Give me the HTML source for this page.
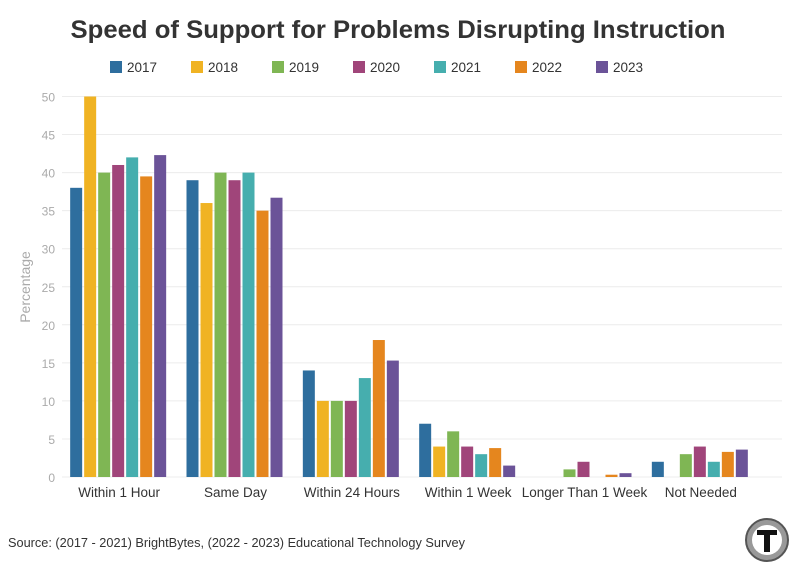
<!DOCTYPE html>
<html><head><meta charset="utf-8"><style>
body{margin:0;background:#fff;font-family:"Liberation Sans",sans-serif;}
svg text{font-family:"Liberation Sans",sans-serif;}
</style></head><body>
<svg width="796" height="575">
<text x="398" y="38" text-anchor="middle" font-size="25" font-weight="bold" fill="#333" textLength="655" lengthAdjust="spacingAndGlyphs">Speed of Support for Problems Disrupting Instruction</text>
<g id="legend"></g>
<g id="grid"></g>
<g id="bars"></g>
<g id="xl"></g>
<text transform="translate(30,287) rotate(-90)" text-anchor="middle" font-size="14" fill="#aaa">Percentage</text>
<text x="8" y="547" font-size="13" fill="#333" textLength="457" lengthAdjust="spacingAndGlyphs">Source: (2017 - 2021) BrightBytes, (2022 - 2023) Educational Technology Survey</text>
<g>
<circle cx="767" cy="540" r="21" fill="#999" stroke="#555" stroke-width="2"/>
<circle cx="767" cy="540" r="15" fill="#fff"/>
<rect x="757" y="530" width="20" height="5" fill="#111"/><rect x="764" y="530" width="6" height="22" fill="#111"/>
</g>
</svg>
<script>
const categories=["Within 1 Hour","Same Day","Within 24 Hours","Within 1 Week","Longer Than 1 Week","Not Needed"];
const years=["2017","2018","2019","2020","2021","2022","2023"];
const colors=["#2e6e9e","#f0b323","#7fb654","#a0457a","#46aeae","#e5861e","#6b5398"];
const v2017=[38,39,14,7,0,2];
const v2018=[50,36,10,4,0,0];
const v2019=[40,40,10,6,1,3];
const v2020=[41,39,10,4,2,4];
const v2021=[42,40,13,3,0,2];
const v2022=[39.5,35,18,3.8,0.3,3.3];
const v2023=[42.3,36.7,15.3,1.5,0.5,3.6];
const series=[v2017,v2018,v2019,v2020,v2021,v2022,v2023];
const yTicks=[0,5,10,15,20,25,30,35,40,45,50];
const NS="http://www.w3.org/2000/svg";
const x0=62,x1=760,yb=477,yt=96.5,ymax=50;
const y=v=>yb-(v/ymax)*(yb-yt);
const gw=(x1-x0)/categories.length;
function mk(t,a,p){const e=document.createElementNS(NS,t);for(const k in a)e.setAttribute(k,a[k]);p.appendChild(e);return e;}
const grid=document.getElementById('grid');
yTicks.forEach(t=>{
 const l=mk('line',{x1:x0,x2:782,y1:y(t),y2:y(t),stroke:'#ececec'},grid);
 
 
 const tx=mk('text',{x:55,y:y(t)+5,'text-anchor':'end','font-size':12,fill:'#aaa'},grid);
 tx.textContent=t;
 
 
});
const bars=document.getElementById('bars'),xl=document.getElementById('xl');
categories.forEach((c,i)=>{
 const cx=x0+gw*(i+0.5)-1;
 series.forEach((s,j)=>{
  const v=s[i]; if(!v) return;
  const r=mk('rect',{x:cx-49+j*14,y:y(v),width:12,height:yb-y(v),fill:colors[j]},bars);
  
  
 });
 const t=mk('text',{x:cx,y:497,'text-anchor':'middle','font-size':13.5,fill:'#333'},xl);
 t.textContent=c;
 
 
});
const lg=document.getElementById('legend');
years.forEach((yr,j)=>{
 const lx=110+j*81;
 const r=mk('rect',{x:lx,y:61,width:12,height:12,fill:colors[j]},lg);
 
 
 const t=mk('text',{x:lx+17,y:72,'font-size':13.5,fill:'#333'},lg);
 t.textContent=yr;
 
 
});
</script>
</body></html>
